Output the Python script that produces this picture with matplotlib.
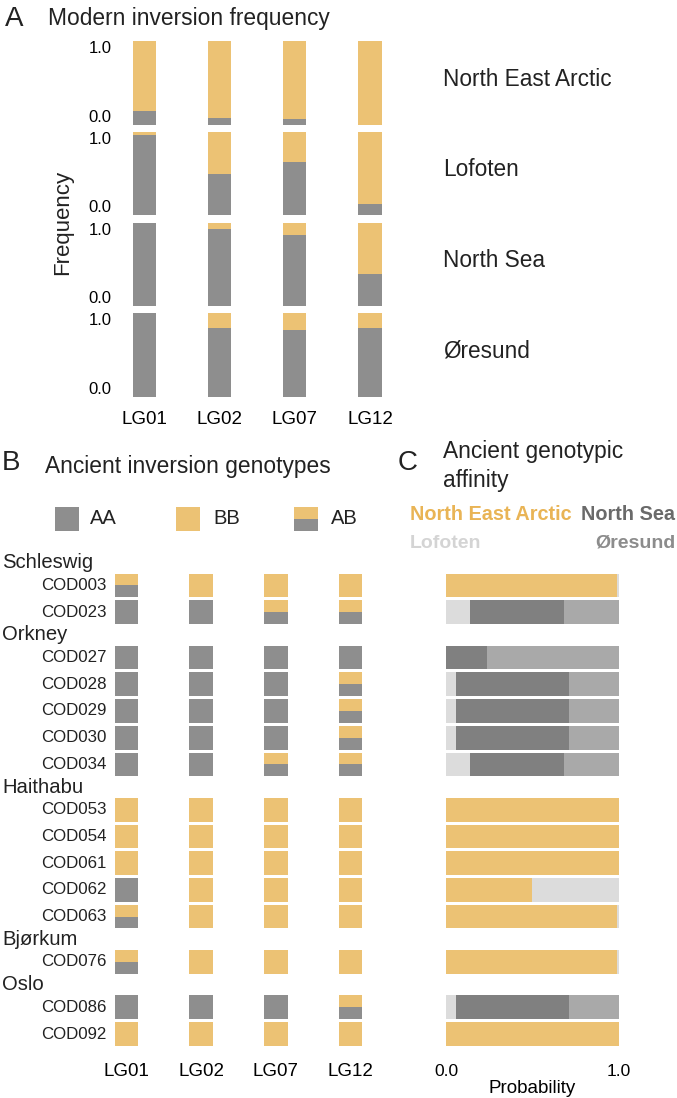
import matplotlib
matplotlib.use('Agg')
import matplotlib.pyplot as plt
from matplotlib.patches import Rectangle

plt.rcParams['font.family'] = ['Liberation Sans', 'DejaVu Sans']
plt.rcParams['text.color'] = '#222222'

# ---- data ----
lg = ['LG01', 'LG02', 'LG07', 'LG12']
regions = ['North East Arctic', 'Lofoten', 'North Sea', 'Øresund']
# modern frequency of the A arrangement (grey); rest is B (yellow)
freq_nea = [0.16, 0.08, 0.06, 0.0]
freq_lofoten = [0.96, 0.50, 0.64, 0.14]
freq_northsea = [1.0, 0.92, 0.855, 0.39]
freq_oresund = [1.0, 0.825, 0.80, 0.825]

groups = ['Schleswig', 'Orkney', 'Haithabu', 'Bjørkum', 'Oslo']
group_samples = [
    ['COD003', 'COD023'],
    ['COD027', 'COD028', 'COD029', 'COD030', 'COD034'],
    ['COD053', 'COD054', 'COD061', 'COD062', 'COD063'],
    ['COD076'],
    ['COD086', 'COD092'],
]
# genotype per sample for LG01, LG02, LG07, LG12 (A = AA, B = BB, H = AB)
genotypes = ['HBBB', 'AAHH',
             'AAAA', 'AAAH', 'AAAH', 'AAAH', 'AAHH',
             'BBBB', 'BBBB', 'BBBB', 'ABBB', 'HBBB',
             'HBBB',
             'AAAH', 'BBBB']

# ancient genotypic affinity (probability)
aff_nea = [0.99, 0, 0, 0, 0, 0, 0, 1, 1, 1, 0.495, 0.99, 0.99, 0, 1]
aff_lofoten = [0.01, 0.14, 0, 0.056, 0.056, 0.056, 0.14, 0, 0, 0, 0.505, 0.01, 0.01, 0.056, 0]
aff_northsea = [0, 0.54, 0.235, 0.657, 0.657, 0.657, 0.54, 0, 0, 0, 0, 0, 0, 0.657, 0]
aff_oresund = [0, 0.32, 0.765, 0.287, 0.287, 0.287, 0.32, 0, 0, 0, 0, 0, 0, 0.287, 0]

YEL = '#ecc274'
GRY = '#8e8e8e'
C_LOF = '#dcdcdc'
C_NS = '#808080'
C_OR = '#a9a9a9'

W, H = 677, 1098


def rect(x0, y0, x1, y1):
    return [x0 / W, 1 - y1 / H, (x1 - x0) / W, (y1 - y0) / H]


fig = plt.figure(figsize=(W / 100, H / 100), dpi=100)

# ---- panel A ----
fig.text(5 / W, 1 - 19 / H, 'A', fontsize=20, va='center', ha='left')
fig.text(48 / W, 1 - 19 / H, 'Modern inversion frequency', fontsize=16.4, va='center')

freqs = [freq_nea, freq_lofoten, freq_northsea, freq_oresund]
xs = range(len(lg))
for i, (reg, fr) in enumerate(zip(regions, freqs)):
    top = 41 + i * 90.8
    ax = fig.add_axes(rect(119.7, top, 394.8, top + 83.5))
    b = [1 - v for v in fr]
    ax.bar(xs, fr, width=0.31, color=GRY)
    ax.bar(xs, b, width=0.31, bottom=fr, color=YEL)
    ax.set_xlim(-0.33, 3.33)
    ax.set_ylim(0, 1)
    ax.set_yticks([0, 1])
    ax.set_yticklabels(['0.0', '1.0'], fontsize=12)
    labs = ax.get_yticklabels()
    labs[0].set_va('bottom')
    labs[1].set_va('top')
    ax.tick_params(length=0, pad=6)
    for s in ax.spines.values():
        s.set_visible(False)
    if i == 3:
        ax.set_xticks(list(xs))
        ax.set_xticklabels(lg, fontsize=13.5)
        ax.tick_params(axis='x', pad=10)
    else:
        ax.set_xticks([])
    fig.text(443 / W, 1 - (top + 38) / H, reg, fontsize=16.3, va='center')

fig.text(63 / W, 1 - 222 / H, 'Frequency', fontsize=16, rotation=90,
         va='center', ha='center')

# ---- panel B ----
fig.text(2 / W, 1 - 463 / H, 'B', fontsize=20, va='center')
fig.text(45 / W, 1 - 466 / H, 'Ancient inversion genotypes', fontsize=16.4, va='center')

lax = fig.add_axes(rect(0, 500, 380, 540))
lax.set_xlim(0, 380)
lax.set_ylim(540, 500)
lax.axis('off')
lax.add_patch(Rectangle((55, 507), 24, 24, color=GRY, lw=0))
lax.text(90, 519, 'AA', fontsize=14.5, va='center')
lax.add_patch(Rectangle((176, 507), 24, 24, color=YEL, lw=0))
lax.text(213, 519, 'BB', fontsize=14.5, va='center')
lax.add_patch(Rectangle((294, 507), 24, 12, color=YEL, lw=0))
lax.add_patch(Rectangle((294, 519), 24, 12, color=GRY, lw=0))
lax.text(331, 519, 'AB', fontsize=14.5, va='center')

# row positions (slot units) with extra gap between groups
gap = 1.7
ypos = []
group_y = []
y = 0.0
for gi, smp in enumerate(group_samples):
    if gi > 0:
        y += gap - 1
    group_y.append(y - 0.85)
    for s in smp:
        ypos.append(y)
        y += 1
sample_names = [s for smp in group_samples for s in smp]

slot = 26.7
y0px = 585.5
ytop, ybot = 560, 1050
ylim = ((ybot - y0px) / slot, (ytop - y0px) / slot)

axb = fig.add_axes(rect(100, ytop, 378, ybot))
h = 0.89
bw = 0.315
for yy, g in zip(ypos, genotypes):
    for j, c in enumerate(g):
        if c == 'A':
            axb.bar(j, h, bottom=yy - h / 2, width=bw, color=GRY)
        elif c == 'B':
            axb.bar(j, h, bottom=yy - h / 2, width=bw, color=YEL)
        else:
            axb.bar(j, h / 2, bottom=yy - h / 2, width=bw, color=YEL)
            axb.bar(j, h / 2, bottom=yy, width=bw, color=GRY)
axb.set_xlim(-0.355, 3.367)
axb.set_ylim(*ylim)
axb.set_xticks(range(len(lg)))
axb.set_xticklabels(lg, fontsize=13.5)
axb.set_yticks([])
axb.tick_params(length=0, pad=9)
for s in axb.spines.values():
    s.set_visible(False)

for yy, name in zip(ypos, sample_names):
    fig.text(107 / W, 1 - (y0px + yy * slot) / H, name, fontsize=12.2,
             ha='right', va='center')
for gy, gname in zip(group_y, groups):
    fig.text(2 / W, 1 - (y0px + gy * slot) / H, gname, fontsize=14.6,
             ha='left', va='center')

# ---- panel C ----
fig.text(398 / W, 1 - 463 / H, 'C', fontsize=20, va='center')
fig.text(443 / W, 1 - 452 / H, 'Ancient genotypic', fontsize=16.4, va='center')
fig.text(443 / W, 1 - 480 / H, 'affinity', fontsize=16.4, va='center')
fig.text(410 / W, 1 - 515 / H, 'North East Arctic', fontsize=14.3,
         fontweight='bold', color='#e9b455', va='center')
fig.text(675 / W, 1 - 515 / H, 'North Sea', fontsize=14.3,
         fontweight='bold', color='#6a6a6a', va='center', ha='right')
fig.text(410 / W, 1 - 543 / H, 'Lofoten', fontsize=14,
         fontweight='bold', color='#d4d4d4', va='center')
fig.text(675 / W, 1 - 543 / H, 'Øresund', fontsize=14,
         fontweight='bold', color='#8c8c8c', va='center', ha='right')

axc = fig.add_axes(rect(446, ytop, 619, ybot))
left = [0] * len(ypos)
for vals, col in [(aff_nea, YEL), (aff_lofoten, C_LOF),
                  (aff_northsea, C_NS), (aff_oresund, C_OR)]:
    axc.barh(ypos, vals, left=left, height=h, color=col)
    left = [a + b for a, b in zip(left, vals)]
axc.set_xlim(0, 1)
axc.set_ylim(*ylim)
axc.set_yticks([])
axc.set_xticks([0, 1])
axc.set_xticklabels(['0.0', '1.0'], fontsize=12.5)
axc.tick_params(length=0, pad=10)
axc.set_xlabel('Probability', fontsize=13.5, labelpad=1)
for s in axc.spines.values():
    s.set_visible(False)

fig.savefig('out.png', dpi=100)
